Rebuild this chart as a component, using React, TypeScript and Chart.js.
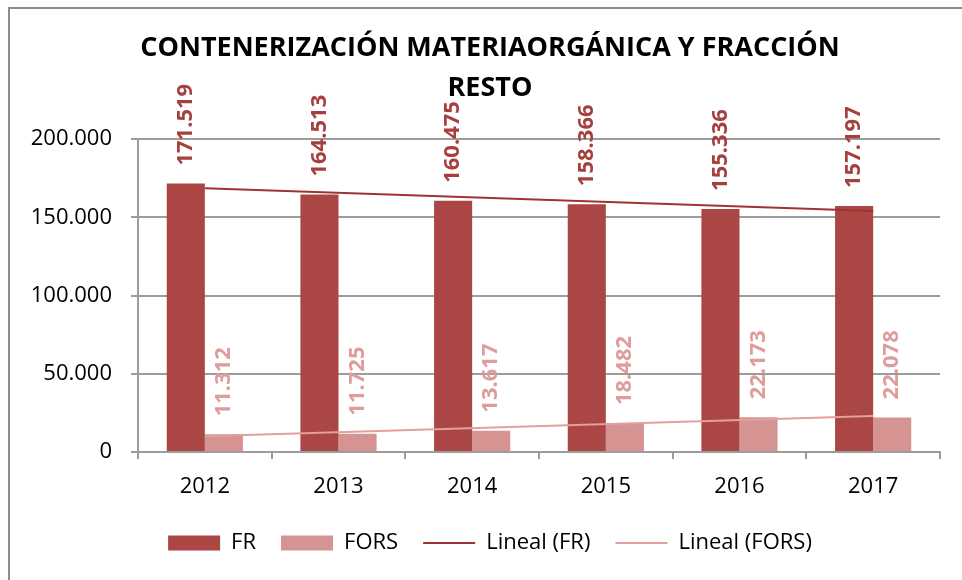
import React, { useEffect, useRef } from 'react';
import { Chart, registerables } from 'chart.js';

Chart.register(...registerables);

// ---- data ----
const categories = ['2012', '2013', '2014', '2015', '2016', '2017'];
const frValues = [171519, 164513, 160475, 158366, 155336, 157197];
const forsValues = [11312, 11725, 13617, 18482, 22173, 22078];
// linear trendline end points (first and last category)
const frTrend = [168466, null, null, null, null, 154002];
const forsTrend = [10133, null, null, null, null, 22996];
const yTicks = [0, 50000, 100000, 150000, 200000];
const titleLines = ['CONTENERIZACIÓN MATERIAORGÁNICA Y FRACCIÓN', 'RESTO'];
const seriesNames = ['FR', 'FORS', 'Lineal (FR)', 'Lineal (FORS)'];

// ---- styles ----
const FONT = '"Open Sans"';
const FR_COLOR = '#AA4644';
const FORS_COLOR = '#D59391';
const FR_TREND = '#9E3432';
const FORS_TREND = '#E2A09E';
const LABEL_COLORS = ['#A6403E', '#DE9C9A'];
const GRID = '#9c9c9c';

const fmt = (v: number) => String(Math.round(v)).replace(/\B(?=(\d{3})+(?!\d))/g, '.');

const frameBorder = {
  id: 'frameBorder',
  beforeDraw(chart: any) {
    const ctx = chart.ctx;
    ctx.save();
    ctx.fillStyle = '#ffffff';
    ctx.fillRect(0, 0, chart.width, chart.height);
    ctx.fillStyle = '#8c8c8c';
    ctx.fillRect(8, 7, chart.width - 8, 2);
    ctx.fillRect(8, 7, 2, chart.height - 7);
    ctx.restore();
  },
};

const barLabels = {
  id: 'barLabels',
  afterDatasetsDraw(chart: any) {
    const ctx = chart.ctx;
    chart.data.datasets.forEach((ds: any, i: number) => {
      if (ds.type !== 'bar') return;
      const meta = chart.getDatasetMeta(i);
      meta.data.forEach((el: any, j: number) => {
        ctx.save();
        ctx.translate(el.x, el.y - 18);
        ctx.rotate(-Math.PI / 2);
        ctx.font = `bold 22px ${FONT}`;
        ctx.fillStyle = LABEL_COLORS[i];
        ctx.textAlign = 'left';
        ctx.textBaseline = 'middle';
        ctx.fillText(fmt(ds.data[j]), 0, 0);
        ctx.restore();
      });
    });
  },
};

export default function App() {
  const ref = useRef<HTMLCanvasElement | null>(null);

  useEffect(() => {
    document.body.style.margin = '0';
    if (!ref.current) return;
    const chart: any = new Chart(ref.current, {
      type: 'bar',
      data: {
        labels: categories,
        datasets: [
          { type: 'bar', label: seriesNames[0], data: frValues, backgroundColor: FR_COLOR, borderWidth: 0, categoryPercentage: 0.57, barPercentage: 1, order: 2, yAxisID: 'y' },
          { type: 'bar', label: seriesNames[1], data: forsValues, backgroundColor: FORS_COLOR, borderWidth: 0, categoryPercentage: 0.57, barPercentage: 1, order: 2, yAxisID: 'y' },
          { type: 'line', label: seriesNames[2], data: frTrend, borderColor: FR_TREND, backgroundColor: FR_TREND, borderWidth: 2, pointRadius: 0, spanGaps: true, fill: false, order: 1, yAxisID: 'y' },
          { type: 'line', label: seriesNames[3], data: forsTrend, borderColor: FORS_TREND, backgroundColor: FORS_TREND, borderWidth: 2, pointRadius: 0, spanGaps: true, fill: false, order: 1, yAxisID: 'y' },
        ] as any,
      },
      options: {
        animation: false,
        responsive: false,
        layout: { padding: { left: 28, right: 10, top: 0, bottom: 16 } },
        plugins: {
          tooltip: { enabled: false },
          title: {
            display: true,
            text: titleLines,
            color: '#000',
            font: { family: FONT, size: 27, weight: 'bold', lineHeight: 40 / 27 },
            padding: { top: 28, bottom: 31 },
          },
          legend: {
            position: 'bottom',
            labels: {
              usePointStyle: true,
              pointStyleWidth: 52,
              boxHeight: 15,
              padding: 25,
              color: '#000',
              font: { family: FONT, size: 22 },
              sort: (a: any, b: any) => a.datasetIndex - b.datasetIndex,
              generateLabels: (c: any) => {
                const items = Chart.defaults.plugins.legend.labels.generateLabels(c);
                return items.map((it: any) => {
                  const ds = c.data.datasets[it.datasetIndex];
                  if (ds.type === 'line') {
                    return { ...it, pointStyle: 'line', lineWidth: 2, strokeStyle: ds.borderColor, fillStyle: ds.borderColor };
                  }
                  return { ...it, pointStyle: 'rect', lineWidth: 0, fillStyle: ds.backgroundColor };
                });
              },
            },
          },
        },
        scales: {
          x: {
            afterFit: (axis: any) => { axis.height = 55; },
            grid: { display: true, drawOnChartArea: false, drawTicks: true, tickLength: 7, color: GRID, lineWidth: 2, offset: true },
            border: { display: true, color: GRID, width: 2 },
            ticks: { color: '#000', padding: 15, font: { family: FONT, size: 22 } },
          },
          y: {
            min: 0,
            max: 200000,
            afterFit: (axis: any) => { axis.width = 110; },
            afterBuildTicks: (axis: any) => { axis.ticks = yTicks.map((v) => ({ value: v })); },
            grid: { color: GRID, lineWidth: 2, tickLength: 7, drawTicks: true },
            border: { display: true, color: GRID, width: 2 },
            ticks: { color: '#000', padding: 19, font: { family: FONT, size: 22 }, callback: (v: any) => fmt(Number(v)) },
          },
          // empty spacer on the right so the plot ends where the reference does
          ySpacer: {
            type: 'linear',
            position: 'right',
            display: true,
            afterFit: (axis: any) => { axis.width = 12; },
            grid: { display: false, drawTicks: false },
            border: { display: false },
            ticks: { display: false },
          },
        },
      } as any,
      plugins: [frameBorder, barLabels],
    });
    // draw the title above the data labels
    const tb = chart.titleBlock;
    if (tb) {
      tb._layers = () => [{ z: 1, draw: (area: any) => tb.draw(area) }];
      chart.update();
    }
    return () => { chart.destroy(); };
  }, []);

  return (
    <div style={{ width: 962, height: 580 }}>
      <canvas ref={ref} width={962} height={580} style={{ display: 'block' }} />
    </div>
  );
}
